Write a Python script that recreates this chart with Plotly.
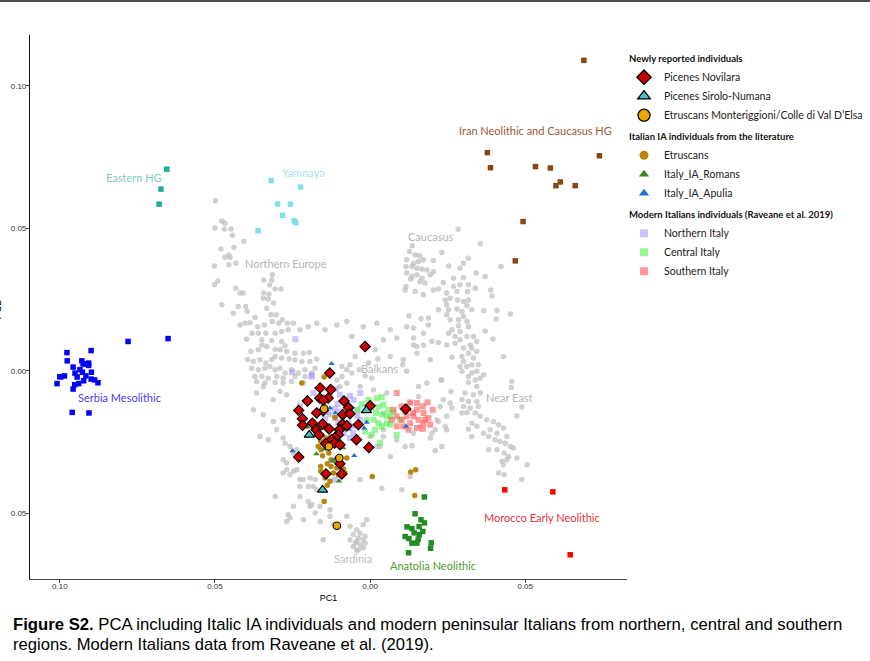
import plotly.graph_objects as go

# ---------------- data (PC1, PC2) ----------------
grey_northern_europe = [(-0.0498,0.0597),(-0.0478,0.0526),(-0.0468,0.0518),(-0.0500,0.0501),(-0.0470,0.0498),(-0.0448,0.0498),(-0.0444,0.0476),(-0.0407,0.0454),(-0.0481,0.0428),(-0.0439,0.0433),(-0.0455,0.0407),(-0.0468,0.0399),(-0.0451,0.0398),(-0.0433,0.0378),(-0.0455,0.0372),(-0.0502,0.0368),(-0.0491,0.0315),(-0.0502,0.0302),(-0.0315,0.0337),(-0.0343,0.0319),(-0.0317,0.0319),(-0.0324,0.0301),(-0.0306,0.0287),(-0.0287,0.0287),(-0.0433,0.0290),(-0.0419,0.0273),(-0.0409,0.0273),(-0.0343,0.0273),(-0.0326,0.0270),(-0.0344,0.0255),(-0.0328,0.0252),(-0.0311,0.0238),(-0.0478,0.0232),(-0.0425,0.0226),(-0.0401,0.0226),(-0.0333,0.0220),(-0.0396,0.0208),(-0.0441,0.0202),(-0.0319,0.0197),(-0.0303,0.0197),(-0.0283,0.0179),(-0.0419,0.0161),(-0.0403,0.0167),(-0.0387,0.0169),(-0.0371,0.0187),(-0.0362,0.0155),(-0.0315,0.0173),(-0.0294,0.0167),(-0.0266,0.0167),(-0.0341,0.0161),(-0.0380,0.0132),(-0.0360,0.0132),(-0.0336,0.0132),(-0.0306,0.0132),(-0.0285,0.0138),(-0.0264,0.0144),(-0.0398,0.0111),(-0.0349,0.0109),(-0.0317,0.0106),(-0.0285,0.0103),(-0.0349,0.0091),(-0.0274,0.0088),(-0.0384,0.0069),(-0.0360,0.0074),(-0.0333,0.0085),(-0.0306,0.0076),(-0.0290,0.0074),(-0.0269,0.0068),(-0.0242,0.0062),(-0.0215,0.0062),(-0.0196,0.0064),(-0.0395,0.0039),(-0.0376,0.0033),(-0.0355,0.0039),(-0.0336,0.0027),(-0.0317,0.0039),(-0.0306,0.0050),(-0.0285,0.0045),(-0.0261,0.0041),(-0.0242,0.0039),(-0.0220,0.0033),(-0.0194,0.0033),(-0.0172,0.0041),(-0.0382,0.0009),(-0.0360,0.0004),(-0.0339,0.0009),(-0.0323,0.0015),(-0.0306,0.0004),(-0.0290,0.0009),(-0.0274,-0.0008),(-0.0253,0.0004),(-0.0231,-0.0008),(-0.0210,0.0004),(-0.0177,0.0009),(-0.0371,-0.0020),(-0.0349,-0.0020),(-0.0328,-0.0026),(-0.0301,-0.0020),(-0.0280,-0.0026),(-0.0242,-0.0020),(-0.0210,-0.0020),(-0.0188,-0.0008),(-0.0366,-0.0038),(-0.0339,-0.0043),(-0.0306,-0.0041),(-0.0280,-0.0043),(-0.0253,-0.0038)]

grey_balkans = [(-0.0065,0.0021),(-0.0075,0.0004),(-0.0059,-0.0008),(-0.0091,0.0015),(-0.0048,0.0050),(-0.0059,0.0120),(0.0025,0.0042),(-0.0005,0.0027),(-0.0035,0.0004),(-0.0016,-0.0018),(0.0005,-0.0026),(-0.0091,-0.0020),(-0.0107,-0.0032),(0.0118,0.0155),(0.0172,0.0132),(0.0199,0.0103),(0.0140,0.0091),(0.0086,0.0115),(0.0107,0.0039),(0.0151,0.0062),(0.0194,0.0039),(0.0231,-0.0032),(0.0183,-0.0043),(0.0236,-0.0102),(0.0247,-0.0160),(0.0210,-0.0207),(0.0129,-0.0371),(0.0102,-0.0418),(0.0038,-0.0412),(-0.0032,-0.0382),(0.0231,-0.0266),(0.0247,-0.0207),(0.0215,-0.0172),(0.0022,-0.0266),(0.0065,-0.0301),(0.0086,-0.0242),(0.0043,-0.0231),(0.0129,-0.0113),(-0.0097,-0.0055),(-0.0032,-0.0055),(-0.0075,-0.0043),(-0.0161,-0.0055),(0.0022,0.0167),(0.0065,0.0144),(0.0043,0.0109),(0.0016,0.0074),(0.0065,0.0050),(-0.0022,0.0155),(-0.0107,0.0161),(-0.0075,0.0173),(-0.0145,0.0144),(-0.0172,0.0167),(-0.0199,0.0155),(-0.0226,0.0144),(-0.0247,0.0167),(0.0011,-0.0067),(0.0054,-0.0078),(0.0043,-0.0207),(0.0000,-0.0231),(0.0032,-0.0266),(0.0043,-0.0148),(-0.0129,-0.0154)]

grey_italy_sardinia = [(-0.0344,-0.0154),(-0.0376,-0.0137),(-0.0301,-0.0207),(-0.0280,-0.0172),(-0.0274,-0.0254),(-0.0247,-0.0289),(-0.0269,-0.0324),(-0.0247,-0.0353),(-0.0280,-0.0359),(-0.0226,-0.0382),(-0.0194,-0.0376),(-0.0199,-0.0406),(-0.0172,-0.0418),(-0.0312,-0.0178),(-0.0355,-0.0231),(-0.0328,-0.0242),(-0.0280,-0.0236),(-0.0258,-0.0266),(-0.0236,-0.0277),(-0.0269,-0.0347),(-0.0236,-0.0347),(-0.0258,-0.0365),(-0.0215,-0.0382),(-0.0177,-0.0382),(-0.0226,-0.0406),(-0.0183,-0.0406),(-0.0306,-0.0441),(-0.0226,-0.0441),(-0.0199,-0.0459),(-0.0247,-0.0476),(-0.0264,-0.0505),(-0.0258,-0.0517),(-0.0215,-0.0523),(-0.0161,-0.0529),(-0.0129,-0.0511),(-0.0075,-0.0511),(-0.0065,-0.0546),(-0.0043,-0.0558),(-0.0032,-0.0570),(-0.0054,-0.0575),(-0.0038,-0.0587),(-0.0022,-0.0593),(-0.0043,-0.0599),(-0.0016,-0.0605),(-0.0032,-0.0611),(-0.0065,-0.0593),(-0.0054,-0.0617),(-0.0022,-0.0622),(-0.0038,-0.0628),(-0.0016,-0.0581),(-0.0161,-0.0476),(-0.0129,-0.0488),(-0.0194,-0.0476),(-0.0290,-0.0073),(-0.0312,-0.0102),(-0.0344,-0.0055),(-0.0366,-0.0078),(-0.0269,-0.0084),(-0.0215,-0.0043),(-0.0280,-0.0312),(-0.0269,-0.0529),(-0.0151,-0.0593),(-0.0118,-0.0540),(-0.0011,-0.0523),(-0.0022,-0.0540),(-0.0048,-0.0605),(-0.0043,-0.0631),(-0.0177,-0.0499),(-0.0188,-0.0470)]

grey_caucasus_near_east = [(0.0284,0.0497),(0.0355,0.0446),(0.0136,0.0439),(0.0231,0.0415),(0.0127,0.0419),(0.0145,0.0407),(0.0159,0.0404),(0.0118,0.0390),(0.0140,0.0378),(0.0156,0.0384),(0.0172,0.0390),(0.0204,0.0387),(0.0317,0.0395),(0.0301,0.0378),(0.0116,0.0366),(0.0135,0.0366),(0.0151,0.0360),(0.0167,0.0357),(0.0183,0.0354),(0.0204,0.0348),(0.0253,0.0368),(0.0290,0.0360),(0.0342,0.0343),(0.0422,0.0366),(0.0118,0.0343),(0.0135,0.0331),(0.0151,0.0337),(0.0167,0.0325),(0.0194,0.0337),(0.0269,0.0325),(0.0301,0.0327),(0.0371,0.0331),(0.0131,0.0322),(0.0161,0.0313),(0.0177,0.0308),(0.0236,0.0310),(0.0269,0.0296),(0.0290,0.0302),(0.0317,0.0302),(0.0339,0.0290),(0.0116,0.0296),(0.0113,0.0284),(0.0145,0.0278),(0.0172,0.0267),(0.0204,0.0284),(0.0220,0.0287),(0.0247,0.0273),(0.0280,0.0278),(0.0314,0.0278),(0.0389,0.0284),(0.0393,0.0263),(0.0242,0.0249),(0.0258,0.0255),(0.0282,0.0249),(0.0301,0.0243),(0.0317,0.0249),(0.0247,0.0232),(0.0312,0.0228),(0.0328,0.0214),(0.0220,0.0214),(0.0253,0.0214),(0.0280,0.0217),(0.0296,0.0208),(0.0366,0.0212),(0.0409,0.0212),(0.0452,0.0199),(0.0125,0.0193),(0.0164,0.0184),(0.0188,0.0185),(0.0247,0.0197),(0.0258,0.0179),(0.0285,0.0179),(0.0301,0.0191),(0.0312,0.0173),(0.0406,0.0182),(0.0140,0.0150),(0.0188,0.0161),(0.0285,0.0158),(0.0317,0.0155),(0.0264,0.0144),(0.0290,0.0138),(0.0371,0.0140),(0.0140,0.0115),(0.0253,0.0132),(0.0274,0.0120),(0.0312,0.0120),(0.0333,0.0120),(0.0396,0.0112),(0.0151,0.0085),(0.0172,0.0090),(0.0220,0.0099),(0.0247,0.0091),(0.0274,0.0097),(0.0290,0.0109),(0.0301,0.0080),(0.0323,0.0091),(0.0344,0.0103),(0.0264,0.0048),(0.0296,0.0050),(0.0317,0.0062),(0.0328,0.0080),(0.0344,0.0068),(0.0301,0.0033),(0.0333,0.0045),(0.0290,0.0015),(0.0312,0.0015),(0.0328,0.0021),(0.0349,0.0021),(0.0430,0.0050),(0.0105,0.0021),(0.0118,-0.0002),(0.0296,-0.0002),(0.0328,-0.0008),(0.0344,-0.0002),(0.0317,-0.0020),(0.0339,-0.0032),(0.0355,-0.0026),(0.0366,-0.0014),(0.0228,-0.0032),(0.0317,-0.0041),(0.0457,-0.0038),(0.0455,-0.0059),(0.0156,-0.0055),(0.0344,-0.0055),(0.0261,-0.0073),(0.0306,-0.0078),(0.0333,-0.0084),(0.0355,-0.0078),(0.0296,-0.0102),(0.0317,-0.0108),(0.0344,-0.0108),(0.0258,-0.0113),(0.0156,-0.0090),(0.0301,-0.0125),(0.0323,-0.0131),(0.0349,-0.0125),(0.0489,-0.0127),(0.0226,-0.0125),(0.0264,-0.0131),(0.0312,-0.0146),(0.0339,-0.0148),(0.0296,-0.0148),(0.0355,-0.0160),(0.0376,-0.0172),(0.0398,-0.0178),(0.0414,-0.0189),(0.0473,-0.0158),(0.0328,-0.0184),(0.0344,-0.0195),(0.0366,-0.0219),(0.0387,-0.0207),(0.0409,-0.0219),(0.0430,-0.0201),(0.0220,-0.0178),(0.0242,-0.0195),(0.0199,-0.0219),(0.0317,-0.0205),(0.0382,-0.0231),(0.0403,-0.0242),(0.0419,-0.0248),(0.0441,-0.0231),(0.0436,-0.0254),(0.0452,-0.0266),(0.0462,-0.0271),(0.0382,-0.0277),(0.0409,-0.0277),(0.0432,-0.0289),(0.0446,-0.0301),(0.0473,-0.0306),(0.0425,-0.0318),(0.0441,-0.0312),(0.0506,-0.0330),(0.0430,-0.0330),(0.0414,-0.0359),(0.0432,-0.0365),(0.0489,-0.0382),(0.0328,-0.0231),(0.0210,-0.0280),(0.0113,-0.0266),(0.0135,-0.0263),(0.0194,-0.0236),(0.0161,-0.0195),(0.0140,-0.0219)]

serbia_mesolithic = [(-0.0780,0.0103),(-0.0651,0.0113),(-0.0899,0.0071),(-0.0977,0.0064),(-0.0976,0.0035),(-0.0929,0.0035),(-0.0907,0.0027),(-0.0925,0.0024),(-0.0916,0.0024),(-0.0957,0.0013),(-0.0935,0.0004),(-0.0898,-0.0005),(-0.0951,-0.0008),(-0.0927,-0.0005),(-0.0916,-0.0018),(-0.0944,-0.0022),(-0.0985,-0.0018),(-0.0996,-0.0021),(-0.1000,-0.0021),(-0.0899,-0.0029),(-0.0888,-0.0032),(-0.0923,-0.0035),(-0.0877,-0.0042),(-0.0939,-0.0045),(-0.0952,-0.0049),(-0.1009,-0.0045),(-0.0957,-0.0064),(-0.0960,-0.0146),(-0.0906,-0.0148),(-0.0907,0.0019)]
eastern_hg = [(-0.0655,0.0708),(-0.0674,0.0638),(-0.0680,0.0585)]
yamnaya = [(-0.0319,0.0668),(-0.0224,0.0645),(-0.0298,0.0586),(-0.0257,0.0585),(-0.0282,0.0546),(-0.0245,0.0527),(-0.0240,0.0520),(-0.0361,0.0492)]
iran_chg = [(0.0689,0.1090),(0.0378,0.0766),(0.0739,0.0755),(0.0388,0.0713),(0.0533,0.0717),(0.0581,0.0712),(0.0613,0.0663),(0.0599,0.0650),(0.0661,0.0650),(0.0493,0.0524),(0.0468,0.0386)]
morocco_en = [(0.0434,-0.0418),(0.0589,-0.0425),(0.0645,-0.0646)]
anatolia_n = [(0.0175,-0.0443),(0.0145,-0.0502),(0.0164,-0.0523),(0.0175,-0.0534),(0.0119,-0.0548),(0.0135,-0.0554),(0.0170,-0.0564),(0.0142,-0.0569),(0.0159,-0.0575),(0.0125,-0.0589),(0.0155,-0.0591),(0.0135,-0.0605),(0.0151,-0.0605),(0.0197,-0.0604),(0.0195,-0.0623),(0.0124,-0.0639),(0.0158,-0.0547),(0.0113,-0.0582)]

northern_italy = [(-0.0241,0.0111),(-0.0251,-0.0005),(-0.0189,-0.0020),(-0.0111,-0.0064),(-0.0226,-0.0123),(-0.0129,-0.0078),(-0.0097,-0.0084),(-0.0065,-0.0088),(-0.0081,-0.0102),(-0.0105,-0.0116),(-0.0113,-0.0134),(-0.0097,-0.0143),(-0.0113,-0.0166),(-0.0088,-0.0178),(-0.0070,-0.0184),(-0.0056,-0.0195),(-0.0081,-0.0205),(-0.0054,-0.0219),(-0.0086,-0.0219),(-0.0065,-0.0236),(-0.0135,-0.0146),(-0.0145,-0.0169),(-0.0054,-0.0102),(-0.0043,-0.0137),(-0.0032,-0.0172),(-0.0167,-0.0096),(-0.0183,-0.0078),(-0.0151,-0.0125),(-0.0032,-0.0078),(-0.0113,-0.0382),(-0.0188,-0.0016),(-0.0103,-0.0182),(-0.0077,-0.0151),(-0.0042,-0.0158)]
central_italy = [(-0.0027,-0.0117),(-0.0005,-0.0102),(0.0022,-0.0096),(0.0038,-0.0092),(0.0005,-0.0127),(0.0027,-0.0127),(0.0043,-0.0119),(0.0059,-0.0137),(0.0019,-0.0148),(0.0038,-0.0154),(0.0054,-0.0160),(-0.0011,-0.0172),(0.0011,-0.0172),(0.0027,-0.0184),(-0.0016,-0.0213),(0.0016,-0.0207),(0.0038,-0.0195),(0.0054,-0.0184),(0.0065,-0.0189),(0.0086,-0.0225),(0.0032,-0.0252),(0.0005,-0.0225),(0.0065,-0.0160),(0.0075,-0.0143),(-0.0039,-0.0137),(0.0097,-0.0172)]
southern_italy = [(0.0086,-0.0078),(0.0129,-0.0111),(0.0151,-0.0113),(0.0170,-0.0125),(0.0202,-0.0137),(0.0102,-0.0125),(0.0118,-0.0160),(0.0086,-0.0160),(0.0070,-0.0172),(0.0102,-0.0172),(0.0140,-0.0160),(0.0156,-0.0172),(0.0188,-0.0166),(0.0172,-0.0184),(0.0129,-0.0184),(0.0151,-0.0201),(0.0170,-0.0204),(0.0124,-0.0207),(0.0086,-0.0195),(0.0107,-0.0195),(0.0138,-0.0148),(0.0172,-0.0148),(0.0113,-0.0143),(0.0075,-0.0137),(0.0151,-0.0137),(0.0185,-0.0111),(0.0194,-0.0189),(0.0177,-0.0172)]

etruscans_lit = [(-0.0220,-0.0043),(-0.0148,-0.0022),(-0.0113,-0.0164),(-0.0144,-0.0236),(-0.0132,-0.0236),(-0.0159,-0.0247),(-0.0167,-0.0266),(-0.0158,-0.0277),(-0.0133,-0.0289),(-0.0153,-0.0298),(-0.0126,-0.0312),(-0.0112,-0.0316),(-0.0159,-0.0336),(-0.0138,-0.0326),(-0.0126,-0.0336),(-0.0107,-0.0341),(-0.0086,-0.0345),(-0.0159,-0.0353),(-0.0118,-0.0359),(-0.0102,-0.0365),(-0.0081,-0.0359),(-0.0145,-0.0376),(-0.0129,-0.0388),(-0.0138,-0.0402),(-0.0148,-0.0459),(0.0007,-0.0371),(0.0131,-0.0355),(0.0147,-0.0347),(0.0144,-0.0438),(-0.0075,-0.0306)]
italy_ia_romans = [(-0.0202,-0.0198),(-0.0173,-0.0292),(-0.0122,-0.0317),(-0.0086,-0.0271),(-0.0100,-0.0387),(-0.0148,-0.0275)]
italy_ia_apulia = [(-0.0124,0.0025),(-0.0250,-0.0281),(-0.0129,-0.0131),(-0.0112,-0.0148),(-0.0051,-0.0298),(-0.0019,-0.0201),(-0.0011,-0.0181),(0.0116,-0.0195),(-0.0112,-0.0308),(-0.0069,-0.0205)]

picenes_novilara = [(-0.0016,0.0085),(-0.0130,-0.0008),(-0.0161,-0.0060),(-0.0127,-0.0066),(-0.0162,-0.0096),(-0.0135,-0.0096),(-0.0151,-0.0103),(-0.0202,-0.0106),(-0.0084,-0.0106),(-0.0069,-0.0130),(-0.0230,-0.0139),(-0.0151,-0.0140),(-0.0172,-0.0148),(-0.0088,-0.0154),(-0.0065,-0.0151),(0.0000,-0.0123),(0.0115,-0.0134),(-0.0218,-0.0168),(-0.0186,-0.0184),(-0.0153,-0.0187),(-0.0089,-0.0188),(-0.0075,-0.0193),(-0.0218,-0.0191),(-0.0038,-0.0189),(-0.0132,-0.0204),(-0.0174,-0.0207),(-0.0164,-0.0225),(-0.0099,-0.0207),(-0.0102,-0.0225),(-0.0113,-0.0234),(-0.0124,-0.0242),(-0.0044,-0.0242),(-0.0143,-0.0256),(-0.0114,-0.0254),(-0.0097,-0.0260),(-0.0004,-0.0269),(-0.0230,-0.0303),(-0.0097,-0.0326),(-0.0142,-0.0362),(-0.0091,-0.0362)]
picenes_sirolo = [(-0.0012,-0.0139),(-0.0196,-0.0225),(-0.0153,-0.0418)]
etruscans_mcve = [(-0.0148,-0.0133),(-0.0133,-0.0266),(-0.0099,-0.0306),(-0.0107,-0.0544)]

x_tick_vals = [-0.10, -0.05, 0.00, 0.05]
x_tick_text = ["0.10", "0.05", "0.00", "0.05"]
y_tick_vals = [-0.05, 0.00, 0.05, 0.10]
y_tick_text = ["0.05", "0.00", "0.05", "0.10"]

region_labels = [
    ("Eastern HG", -0.0761, 0.0677, "#7fcdbf"),
    ("Yamnaya", -0.0213, 0.0698, "#a8e4ec"),
    ("Northern Europe", -0.0271, 0.0375, "#b4b4b4"),
    ("Caucasus", 0.0197, 0.0470, "#b4b4b4"),
    ("Iran Neolithic and Caucasus HG", 0.0532, 0.0842, "#9a5a30"),
    ("Serbia Mesolithic", -0.0806, -0.0095, "#4a3cf5"),
    ("Balkans", 0.0029, 0.0007, "#b4b4b4"),
    ("Near East", 0.0448, -0.0095, "#b4b4b4"),
    ("Morocco Early Neolithic", 0.0555, -0.0516, "#e2303c"),
    ("Sardinia", -0.0055, -0.0660, "#c0c0c0"),
    ("Anatolia Neolithic", 0.0203, -0.0684, "#4e9a2c"),
]

# ---------------- figure ----------------
fig = go.Figure()

def xs(pts):
    return [p[0] for p in pts]

def ys(pts):
    return [p[1] for p in pts]

grey_all = grey_northern_europe + grey_balkans + grey_italy_sardinia + grey_caucasus_near_east
fig.add_trace(go.Scatter(x=xs(grey_all), y=ys(grey_all), mode="markers", showlegend=False,
                         marker=dict(symbol="circle", size=5.5, color="rgba(190,190,190,0.72)", line=dict(width=0))))

for pts, col in [(serbia_mesolithic, "#0000ff"), (eastern_hg, "#1fae9e"), (yamnaya, "#7fdfea"),
                 (iran_chg, "#8b4513"), (morocco_en, "#ff0000"), (anatolia_n, "#228b22")]:
    fig.add_trace(go.Scatter(x=xs(pts), y=ys(pts), mode="markers", showlegend=False,
                             marker=dict(symbol="square", size=5.5, color=col, line=dict(width=0))))

G1 = "<b>Newly reported individuals</b>"
G2 = "<b>Italian IA individuals from the literature</b>"
G3 = "<b>Modern Italians individuals (Raveane et al. 2019)</b>"

# (name, points, symbol, colour, plot size, legend size, outline, group, group title, rank)
series = [
    ("Northern Italy", northern_italy, "square", "rgba(160,150,250,0.55)", 6, 8, 0, "g3", G3, 300),
    ("Central Italy", central_italy, "square", "rgba(80,240,80,0.6)", 6, 8, 0, "g3", G3, 301),
    ("Southern Italy", southern_italy, "square", "rgba(255,85,85,0.6)", 6, 8, 0, "g3", G3, 302),
    ("Etruscans", etruscans_lit, "circle", "#b8860b", 5.5, 9, 0, "g2", G2, 200),
    ("Italy_IA_Romans", italy_ia_romans, "triangle-up", "#3f8a1c", 5.5, 9, 0, "g2", G2, 201),
    ("Italy_IA_Apulia", italy_ia_apulia, "triangle-up", "#2472d0", 5.5, 9, 0, "g2", G2, 202),
    ("Picenes Novilara", picenes_novilara, "diamond", "#cc0000", 8, 11, 1.1, "g1", G1, 100),
    ("Picenes Sirolo-Numana", picenes_sirolo, "triangle-up", "#45c4c4", 9, 11, 1.1, "g1", G1, 101),
    ("Etruscans Monteriggioni/Colle di Val D’Elsa", etruscans_mcve, "circle", "#f0a800", 7.5, 12, 1.1, "g1", G1, 102),
]
for name, pts, sym, col, sz, lsz, lw, grp, gtitle, rank in series:
    fig.add_trace(go.Scatter(x=xs(pts), y=ys(pts), mode="markers", name=name, showlegend=False,
                             legendgroup=grp,
                             marker=dict(symbol=sym, size=sz, color=col, line=dict(width=lw, color="#000000"))))
    # legend-only entry with the larger key symbol of the reference
    fig.add_trace(go.Scatter(x=[None], y=[None], mode="markers", name=name, showlegend=True,
                             legendgroup=grp, legendrank=rank, legendgrouptitle=dict(text=gtitle),
                             marker=dict(symbol=sym, size=lsz, color=col, line=dict(width=lw * 1.2, color="#000000"))))

for text, x, y, col in region_labels:
    fig.add_annotation(x=x, y=y, xref="x", yref="y", text=text, showarrow=False,
                       font=dict(family="Lato", size=11, color=col))

# caption
fig.add_annotation(xref="paper", yref="paper", x=-0.031, y=-0.084, xanchor="left", yanchor="middle",
                   showarrow=False, align="left",
                   text="<b>Figure S2.</b> PCA including Italic IA individuals and modern peninsular Italians from northern, central and southern",
                   font=dict(family="Liberation Sans", size=16.7, color="#000000"))
fig.add_annotation(xref="paper", yref="paper", x=-0.031, y=-0.1207, xanchor="left", yanchor="middle",
                   showarrow=False, align="left",
                   text="regions. Modern Italians data from Raveane et al. (2019).",
                   font=dict(family="Liberation Sans", size=16.6, color="#000000"))
# cut-off y axis title
fig.add_annotation(xref="paper", yref="paper", x=-0.054, y=0.495, xanchor="center", yanchor="middle",
                   showarrow=False, text="PC2", textangle=-90,
                   font=dict(family="Liberation Sans", size=10, color="#000000"))
# top rule
fig.add_shape(type="line", xref="paper", yref="paper", x0=-0.06, x1=1.42, y0=1.0625, y1=1.0625,
              line=dict(color="#111111", width=1.5))

fig.update_layout(
    width=870, height=661,
    margin=dict(l=30, r=243, t=35, b=82, autoexpand=False),
    paper_bgcolor="white", plot_bgcolor="white",
    xaxis=dict(range=[-0.1096, 0.0828], tickvals=x_tick_vals, ticktext=x_tick_text,
               showgrid=False, zeroline=False, showline=True, linecolor="#444444", linewidth=1.2,
               ticks="outside", ticklen=3, tickcolor="#444444", ticklabelstandoff=-4,
               tickfont=dict(family="Liberation Sans", size=8, color="#333333"),
               title=dict(text="PC1", font=dict(family="Liberation Sans", size=9, color="#000000"), standoff=4)),
    yaxis=dict(range=[-0.0731, 0.1179], tickvals=y_tick_vals, ticktext=y_tick_text,
               showgrid=False, zeroline=False, showline=True, linecolor="#111111", linewidth=1.2,
               ticks="outside", ticklen=3, tickcolor="#444444", ticklabelstandoff=-2,
               tickfont=dict(family="Liberation Sans", size=8, color="#333333")),
    legend=dict(x=0.995, y=0.984, xanchor="left", yanchor="top",
                font=dict(family="Lato", size=10.5, color="#222222"),
                grouptitlefont=dict(family="Lato", size=9.5, color="#111111"),
                tracegroupgap=2, itemsizing="trace", traceorder="grouped",
                bgcolor="rgba(0,0,0,0)"),
)

fig.write_html("out.html", config={"displayModeBar": False},
               post_script="document.body.style.margin='0';")
